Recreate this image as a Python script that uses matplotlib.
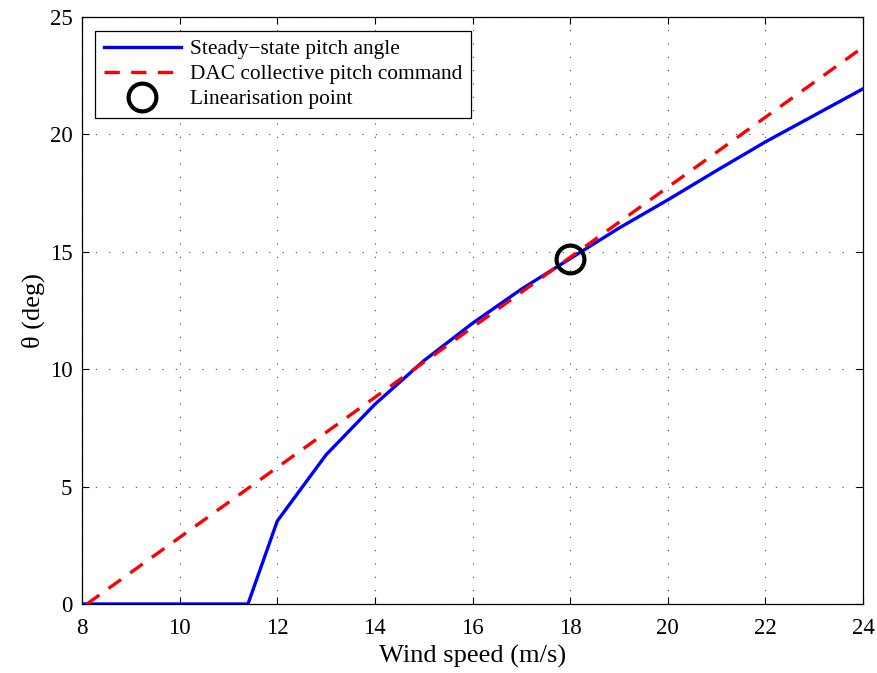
import matplotlib
matplotlib.use("Agg")
import matplotlib.pyplot as plt

wind_ss = [8, 11.4, 12, 13, 14, 15, 16, 17, 18, 19, 20, 21, 22, 23, 24]
pitch_ss = [0, 0, 3.53, 6.35, 8.5, 10.35, 11.95, 13.4, 14.7, 16.0, 17.2, 18.45, 19.67, 20.8, 21.93]

wind_dac = [8.1, 24]
pitch_dac = [0, 23.7]

lin_wind = [18]
lin_pitch = [14.7]

xticks = [8, 10, 12, 14, 16, 18, 20, 22, 24]
yticks = [0, 5, 10, 15, 20, 25]

plt.rcParams['font.family'] = ['Liberation Serif', 'DejaVu Serif']
fig = plt.figure(figsize=(8.78, 6.73), dpi=100)
ax = fig.add_axes([82 / 878, 69 / 673, 781 / 878, 587.3 / 673])

ax.plot(wind_ss, pitch_ss, color='#0000ff', lw=2.4, label='Steady\u2212state pitch angle', zorder=3)
ax.plot(wind_dac, pitch_dac, color='#ff0000', lw=2.4, ls=(0, (4.6, 3.4)), label='DAC collective pitch command', zorder=4)
ax.plot(lin_wind, lin_pitch, ls='none', marker='o', ms=20, mfc='none', mec='black', mew=3,
        label='Linearisation point', zorder=5)

ax.set_xlim(8, 24)
ax.set_ylim(0, 25)
ax.set_xticks(xticks)
ax.set_yticks(yticks)
ax.grid(True, color='#444444', ls=(0, (1, 11)), lw=0.8)
ax.tick_params(direction='in', top=True, right=True, labelsize=16.5, length=5, width=0.8)
ax.tick_params(axis='x', pad=10)
ax.tick_params(axis='y', pad=7)
for s in ax.spines.values():
    s.set_linewidth(0.9)
ax.set_xlabel('Wind speed (m/s)', fontsize=19, labelpad=4)
ax.set_ylabel('\u03b8 (deg)', fontsize=19, labelpad=3)

leg = ax.legend(loc='upper left', fontsize=15.4, frameon=True, fancybox=False, edgecolor='black',
                framealpha=1, borderpad=0.4, labelspacing=0.24, handlelength=3.6, handletextpad=0.45,
                bbox_to_anchor=(13 / 781, 1 - 14 / 587.3), borderaxespad=0)
leg.get_frame().set_linewidth(0.9)

fig.savefig('out.png', dpi=100)
